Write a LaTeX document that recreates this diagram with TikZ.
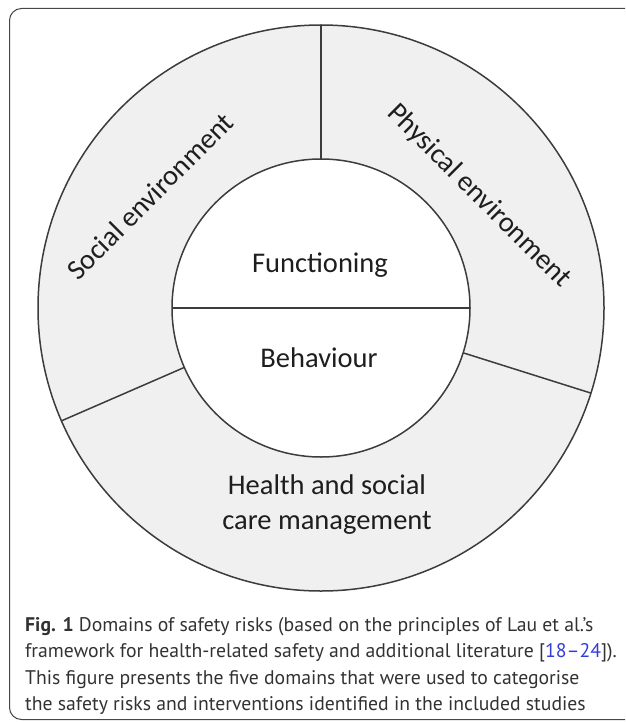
\documentclass[tikz,border=0pt]{standalone}
\usepackage{fontspec}
\setmainfont{Carlito}
\newfontfamily\captionfont{PT Sans}

\begin{document}
\begin{tikzpicture}[x=1pt,y=-1pt,
    domainLine/.style={draw=lineGray, line width=1.5pt},
    domainLabel/.style={font=\fontsize{28.5}{35}\selectfont, text=textGray, align=center, inner sep=0pt},
    captionLine/.style={anchor=base west, inner sep=0pt, text=capGray, font=\captionfont\fontsize{19.7}{26}\selectfont},
]
\definecolor{ringGray}{RGB}{240,240,240}
\definecolor{lineGray}{RGB}{60,60,60}
\definecolor{textGray}{RGB}{30,30,30}
\definecolor{capGray}{RGB}{50,50,50}
\definecolor{frameGray}{RGB}{70,70,70}
\definecolor{citeBlue}{RGB}{50,60,215}

\useasboundingbox (0,0) rectangle (625,722);

%%%%%%%%%%%%%%%% frame
\begin{scope}
  \clip (0,0) rectangle (625,722);
  \draw[frameGray, line width=1pt, rounded corners=12pt] (9.5,8.5) rectangle (645,719.5);
\end{scope}

%%%%%%%%%%%%%%%% rings
\coordinate (centre) at (321,308);
\fill[ringGray] (centre) circle[radius=283pt];
\fill[white] (centre) circle[radius=149pt];

\draw[domainLine] (centre) circle[radius=283pt];
\draw[domainLine] (centre) circle[radius=149pt];

%% splits
\draw[domainLine] ([shift={(-90:149)}]centre) -- ([shift={(-90:283)}]centre);
\draw[domainLine] ([shift={(17.5:149)}]centre) -- ([shift={(17.5:283)}]centre);
\draw[domainLine] ([shift={(156.5:149)}]centre) -- ([shift={(156.5:283)}]centre);
\draw[domainLine] ([shift={(180:149)}]centre) -- ([shift={(0:149)}]centre);

%%%%%%%%%%%%%%%% labels
\node[domainLabel] (functioning) at (320,265) {Functioning};
\node[domainLabel] (behaviour) at (319,358) {Behaviour};
\node[domainLabel] (healthCare) at (327,505) {Health and social\\care management};
\node[domainLabel, rotate=45] (socialEnv) at (150,196) {Social environment};
\node[domainLabel, rotate=-45] (physicalEnv) at (479,196) {Physical environment};

%%%%%%%%%%%%%%%% caption
\node[captionLine] (capOne) at (25,631) {\textbf{Fig. 1} Domains of safety risks (based on the principles of Lau et al.’s};
\node[captionLine] (capTwo) at (25,657) {framework for health-related safety and additional literature [\textcolor{citeBlue}{18–24}]).};
\node[captionLine] (capThree) at (25,684) {This figure presents the five domains that were used to categorise};
\node[captionLine] (capFour) at (25,710) {the safety risks and interventions identified in the included studies};

\end{tikzpicture}
\end{document}
